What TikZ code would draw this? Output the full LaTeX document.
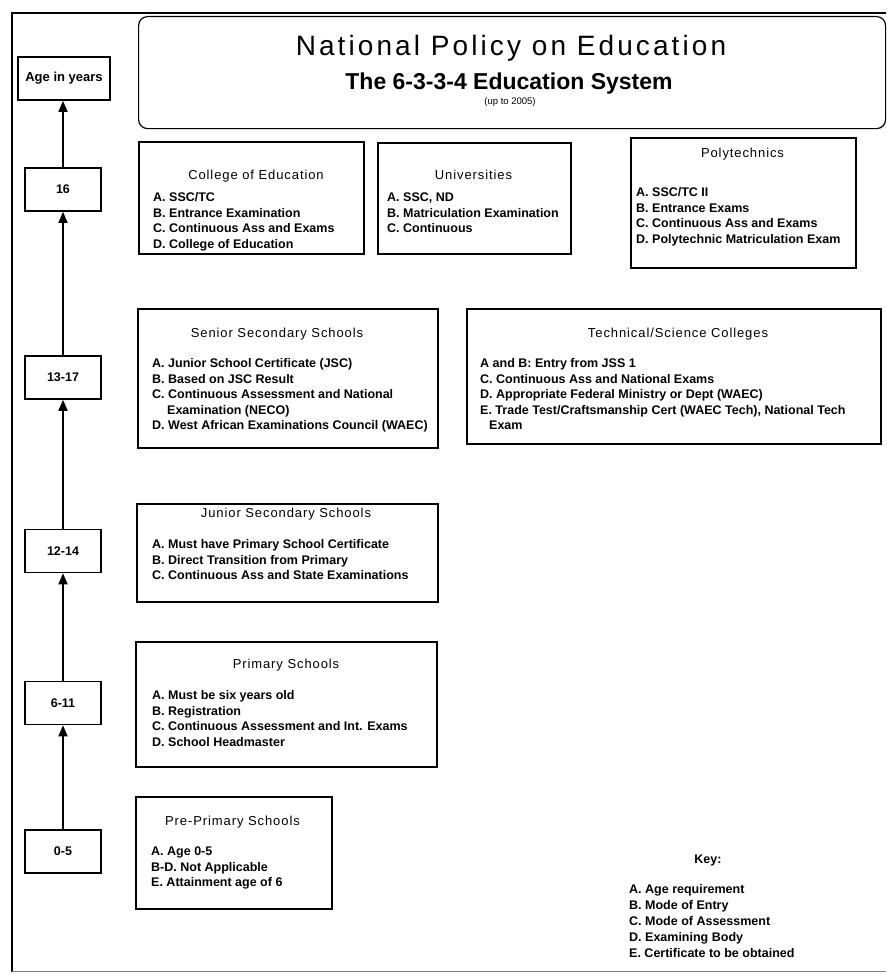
\documentclass[tikz,border=0pt]{standalone}
\usepackage{fontspec}
\setmainfont{Liberation Sans}
\newfontfamily\titlefont[LetterSpace=11]{Liberation Sans}
\newfontfamily\headfont[LetterSpace=7]{Liberation Sans}
\usetikzlibrary{arrows.meta}
\begin{document}
\begin{tikzpicture}[x=1pt,y=-1pt,
  box/.style={draw, line width=1.6pt, anchor=north west, inner sep=0pt},
  agebox/.style={draw, line width=1.6pt, minimum width=76pt, minimum height=43pt, inner sep=0pt, font=\fontsize{12.5}{15}\selectfont\bfseries},
  head/.style={anchor=base, inner sep=0pt, font=\headfont\fontsize{13}{15}\selectfont},
  items/.style={anchor=base west, inner sep=0pt, align=left, font=\fontsize{12.5}{15.5}\selectfont\bfseries},
  up/.style={-{Triangle[length=11pt,width=9pt]}, line width=1.5pt}]
\useasboundingbox (0,0) rectangle (886,974);
\fill[white] (0,0) rectangle (886,974);
% outer frame
\draw[line width=2pt] (886,13) -- (12,13) -- (12,972);
\draw[gray, line width=0.8pt] (12,971) -- (886,971);
% title
\node[box, rounded corners=9pt, line width=1.2pt, minimum width=747pt, minimum height=112pt] (titlebox) at (138,16) {};
\node[anchor=base, inner sep=0pt, font=\titlefont\fontsize{28}{30}\selectfont] (t1) at (511,56) {National Policy on Education};
\node[anchor=base, inner sep=0pt, font=\fontsize{23}{25}\selectfont\bfseries] (t2) at (509,89) {The 6-3-3-4 Education System};
\node[anchor=base, inner sep=0pt, font=\fontsize{9.5}{10}\selectfont] (t3) at (510,104) {(up to 2005)};
% age column
\node[agebox, minimum width=92pt, font=\fontsize{13}{15}\selectfont\bfseries] (age) at (64,78.5) {Age in years};
\node[agebox] (a16) at (63,189.5) {16};
\node[agebox] (a1317) at (63,377.5) {13-17};
\node[agebox] (a1214) at (63,551) {12-14};
\node[agebox] (a611) at (63,703) {6-11};
\node[agebox] (a05) at (63,851.5) {0-5};
\draw[up] (a05.north) -- (a611.south);
\draw[up] (a611.north) -- (a1214.south);
\draw[up] (a1214.north) -- (a1317.south);
\draw[up] (a1317.north) -- (a16.south);
\draw[up] (a16.north) -- (a16.north |- age.south);
% College of Education
\node[box, minimum width=225pt, minimum height=112pt] (college) at (138,141) {};
\node[head] (collegeh) at (256,179) {College of Education};
\node[items] (collegei) at (153,248) {A. SSC/TC\\B. Entrance Examination\\C. Continuous Ass and Exams\\D. College of Education};
% Universities
\node[box, minimum width=193pt, minimum height=111pt] (univ) at (377,142) {};
\node[head] (univh) at (473.5,179) {Universities};
\node[items] (univi) at (387,232.5) {A. SSC, ND\\B. Matriculation Examination\\C. Continuous};
% Polytechnics
\node[box, minimum width=225pt, minimum height=130pt] (poly) at (630,137) {};
\node[head] (polyh) at (742.5,157.5) {Polytechnics};
\node[items] (polyi) at (636,243) {A. SSC/TC II\\B. Entrance Exams\\C. Continuous Ass and Exams\\D. Polytechnic Matriculation Exam};
% Senior Secondary
\node[box, minimum width=300pt, minimum height=139pt] (senior) at (137,308) {};
\node[head] (seniorh) at (277,337) {Senior Secondary Schools};
\node[items] (seniori) at (152,429.5) {A. Junior School Certificate (JSC)\\B. Based on JSC Result\\C. Continuous Assessment and National\\\hspace*{15pt}Examination (NECO)\\D. West African Examinations Council (WAEC)};
% Technical
\node[box, minimum width=414pt, minimum height=135pt] (tech) at (466,308) {};
\node[head] (techh) at (678,337) {Technical/Science Colleges};
\node[items] (techi) at (480,429.5) {A and B: Entry from JSS 1\\C. Continuous Ass and National Exams\\D. Appropriate Federal Ministry or Dept (WAEC)\\E. Trade Test/Craftsmanship Cert (WAEC Tech), National Tech\\\hspace*{9pt}Exam};
% Junior Secondary
\node[box, minimum width=301pt, minimum height=98pt] (junior) at (136,503) {};
\node[head] (juniorh) at (286,517.5) {Junior Secondary Schools};
\node[items] (juniori) at (152,579.5) {A. Must have Primary School Certificate\\B. Direct Transition from Primary\\C. Continuous Ass and State Examinations};
% Primary
\node[box, minimum width=301pt, minimum height=125pt] (primary) at (135,641) {};
\node[head] (primaryh) at (286,668.5) {Primary Schools};
\node[items] (primaryi) at (152,746) {A. Must be six years old\\B. Registration\\C. Continuous Assessment and Int. Exams\\D. School Headmaster};
% Pre-Primary
\node[box, minimum width=196pt, minimum height=112pt] (pre) at (135,796) {};
\node[head] (preh) at (232.5,825.5) {Pre-Primary Schools};
\node[items] (prei) at (151,886.5) {A. Age 0-5\\B-D. Not Applicable\\E. Attainment age of 6};
% Key
\node[anchor=base, inner sep=0pt, font=\fontsize{12.5}{15}\selectfont\bfseries] (keyh) at (708,863) {Key:};
\node[items, font=\fontsize{12.5}{16.1}\selectfont\bfseries] (keyi) at (629,957.4) {A. Age requirement\\B. Mode of Entry\\C. Mode of Assessment\\D. Examining Body\\E. Certificate to be obtained};
\end{tikzpicture}
\end{document}
